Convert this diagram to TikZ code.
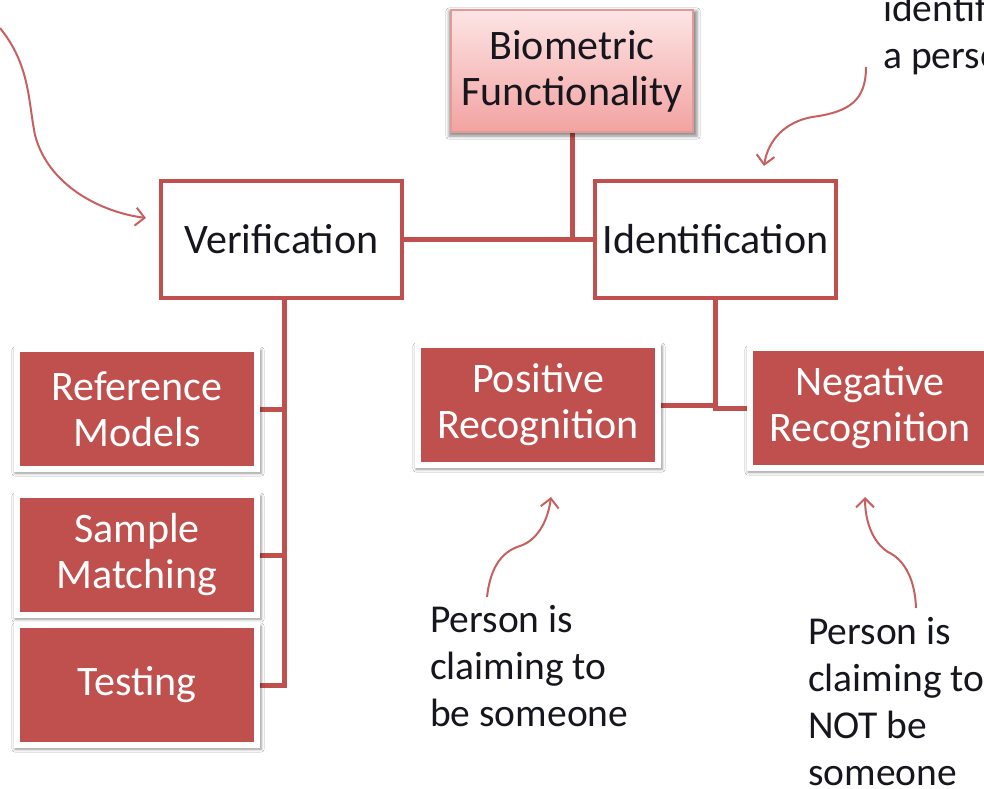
\documentclass[tikz,border=0pt]{standalone}
\usepackage{fontspec}
\setmainfont{Carlito}
\usetikzlibrary{shadows.blur,arrows.meta,calc}
\definecolor{boxred}{HTML}{C0504D}
\definecolor{bioborder}{HTML}{E09A98}
\definecolor{biotop}{HTML}{FDE4E4}
\definecolor{biobot}{HTML}{F2A3A1}
\definecolor{ink}{HTML}{16161E}
\pgfdeclarelayer{background}
\pgfsetlayers{background,main}
\tikzset{
  boxfont/.style={font=\fontsize{42}{46}\selectfont, align=center},
  notefont/.style={font=\fontsize{39.5}{47}\selectfont, align=left, text=ink, inner sep=0pt},
  softshadow/.style={blur shadow={shadow xshift=1pt, shadow yshift=-2.5pt,
    shadow blur radius=3pt, shadow opacity=45, shadow scale=1.025}},
  redbox/.style={boxfont, fill=boxred, draw=white, line width=6pt, text=white,
    minimum width=240pt, minimum height=120pt, inner sep=0pt, softshadow},
  whitebox/.style={boxfont, fill=white, draw=boxred, line width=4pt, text=ink,
    minimum width=241pt, minimum height=117pt, inner sep=0pt},
  biobox/.style={boxfont, top color=biotop, bottom color=biobot, draw=bioborder, line width=1.5pt,
    text=ink, minimum width=242pt, minimum height=122pt, inner sep=0pt, softshadow},
  conn/.style={draw=boxred, line width=5pt},
  callout/.style={draw=boxred!90, line width=2pt, -{Straight Barb[length=9pt,width=18pt,line width=2pt]}},
}
\begin{document}
\begin{tikzpicture}[x=1pt,y=-1pt]
  \clip (0,0) rectangle (984,788);

  % hierarchy boxes
  \node[biobox]   (bio)  at (572,71)      {Biometric\\Functionality};
  \node[whitebox] (ver)  at (281.5,239.5) {Verification};
  \node[whitebox] (idn)  at (715.5,239.5) {Identification};
  \node[redbox]   (ref)  at (137,409)     {Reference\\Models};
  \node[redbox]   (samp) at (137,555)     {Sample\\Matching};
  \node[redbox]   (test) at (137,685)     {Testing};
  \node[redbox]   (pos)  at (538,405)     {Positive\\Recognition};
  \node[redbox]   (neg)  at (870,408)     {Negative\\Recognition};

  % trunk of the verification branch
  \coordinate (vtrunk) at ([xshift=2.5pt]ver.south);

  % page and connectors behind the boxes
  \begin{pgfonlayer}{background}
    \fill[white] (0,0) rectangle (984,788);
    \draw[conn] (bio.south) -- (bio.south |- ver.east);
    \draw[conn] (ver.east) -- (idn.west);
    \draw[conn] (vtrunk) |- (test.east);
    \draw[conn] (ref.east) -- (ref.east -| vtrunk);
    \draw[conn] (samp.east) -- (samp.east -| vtrunk);
    \draw[conn] (idn.south) |- (neg.west);
    \draw[conn] (pos.east) -- (pos.east -| idn.south);
  \end{pgfonlayer}

  % annotations
  \node[notefont, anchor=north west] (note1) at (430,605) {Person is\\claiming to\\be someone};
  \node[notefont, anchor=north west] (note2) at (808,617) {Person is\\claiming to\\NOT be\\someone};
  \node[notefont, anchor=north west] (note3) at (883,-6) {identify\\a person};

  % callout arrows
  \coordinate (c1s) at (0,28);
  \coordinate (c1e) at (146,218);
  \coordinate (c2s) at (866,67);
  \coordinate (c2e) at (764,166);
  \coordinate (c3s) at (487,597);
  \coordinate (c3e) at (551,497);
  \coordinate (c4s) at (916,608);
  \coordinate (c4e) at (865,497);
  \draw[callout] (c1s) .. controls (30,65) and (28,100) .. (35,135)
                       .. controls (48,185) and (100,212) .. (c1e);
  \draw[callout] (c2s) .. controls (866,100) and (850,112) .. (812,117)
                       .. controls (785,122) and (768,140) .. (c2e);
  \draw[callout] (c3s) .. controls (490,570) and (500,552) .. (520,546)
                       .. controls (538,540) and (548,520) .. (c3e);
  \draw[callout] (c4s) .. controls (915,580) and (905,560) .. (888,552)
                       .. controls (872,542) and (865,520) .. (c4e);
\end{tikzpicture}
\end{document}
